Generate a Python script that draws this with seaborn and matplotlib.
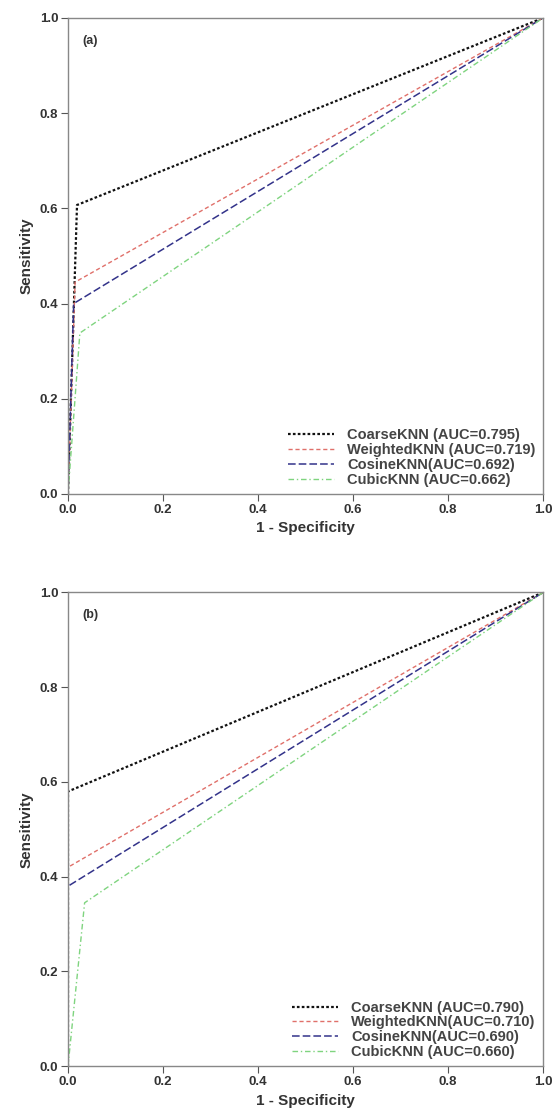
import numpy as np
import pandas as pd
import matplotlib.pyplot as plt
import seaborn as sns

sns.set_theme(style="white")
plt.rcParams["font.family"] = ["Liberation Sans", "DejaVu Sans"]

MODELS = ["CoarseKNN", "WeightedKNN", "CosineKNN", "CubicKNN"]

# panel (a) ROC points
A_FPR = {
    "CoarseKNN": [0.0, 0.019, 1.0],
    "WeightedKNN": [0.0, 0.015, 1.0],
    "CosineKNN": [0.0, 0.012, 1.0],
    "CubicKNN": [0.0, 0.025, 1.0],
}
A_TPR = {
    "CoarseKNN": [0.0, 0.607, 1.0],
    "WeightedKNN": [0.0, 0.445, 1.0],
    "CosineKNN": [0.0, 0.40, 1.0],
    "CubicKNN": [0.0, 0.338, 1.0],
}
A_LABELS = ["CoarseKNN (AUC=0.795)", "WeightedKNN (AUC=0.719)",
            "CosineKNN(AUC=0.692)", "CubicKNN (AUC=0.662)"]

# panel (b) ROC points
B_FPR = {
    "CoarseKNN": [0.0, 0.0, 1.0],
    "WeightedKNN": [0.0, 0.0, 1.0],
    "CosineKNN": [0.0, 0.0, 1.0],
    "CubicKNN": [0.0, 0.035, 1.0],
}
B_TPR = {
    "CoarseKNN": [0.0, 0.58, 1.0],
    "WeightedKNN": [0.0, 0.42, 1.0],
    "CosineKNN": [0.0, 0.38, 1.0],
    "CubicKNN": [0.0, 0.345, 1.0],
}
B_LABELS = ["CoarseKNN (AUC=0.790)", "WeightedKNN(AUC=0.710)",
            "CosineKNN(AUC=0.690)", "CubicKNN (AUC=0.660)"]

COLORS = ["#111111", "#e0706a", "#33338a", "#7fd47f"]
STYLES = [(0, (1.2, 1)), (0, (3, 2)), (0, (5, 2)), (0, (4, 2, 1, 2))]
WIDTHS = [1.6, 1.0, 1.1, 1.0]
TICKS = [0.0, 0.2, 0.4, 0.6, 0.8, 1.0]


def draw(ax, fpr, tpr, labels, tag):
    for m, lab, c, ls, lw in zip(MODELS, labels, COLORS, STYLES, WIDTHS):
        sns.lineplot(x=fpr[m], y=tpr[m], ax=ax, color=c, linestyle=ls,
                     linewidth=lw, label=lab, sort=False, estimator=None)
    ax.set_xlim(0, 1)
    ax.set_ylim(0, 1)
    ax.set_xticks(TICKS)
    ax.set_yticks(TICKS)
    ax.set_xticklabels([f"{t:.1f}" for t in TICKS], fontsize=9.5, fontweight="bold", color="#333333")
    ax.set_yticklabels([f"{t:.1f}" for t in TICKS], fontsize=9.5, fontweight="bold", color="#333333")
    ax.tick_params(direction="out", length=5, width=0.8, color="#555555",
                   left=True, bottom=True, pad=2)
    for sp in ax.spines.values():
        sp.set_color("#888888")
        sp.set_linewidth(1.0)
    ax.set_xlabel("1 - Specificity", fontsize=11, fontweight="bold", color="#333333")
    ax.set_ylabel("Sensitivity", fontsize=11, fontweight="bold", color="#333333")
    ax.text(0.03, 0.965, tag, transform=ax.transAxes, fontsize=9,
            fontweight="bold", va="top", color="#333333")
    leg = ax.legend(loc="lower right", frameon=False, fontsize=10.5,
                    handlelength=3.2, handletextpad=0.9, labelspacing=0.05,
                    borderaxespad=0.1)
    for t in leg.get_texts():
        t.set_fontweight("bold")
        t.set_color("#444444")


fig = plt.figure(figsize=(5.55, 11.2), dpi=100)
ax1 = fig.add_axes([0.1225, 0.559, 0.856, 0.425])
ax2 = fig.add_axes([0.1225, 0.048, 0.856, 0.423])
draw(ax1, A_FPR, A_TPR, A_LABELS, "(a)")
draw(ax2, B_FPR, B_TPR, B_LABELS, "(b)")

fig.savefig("out.png", dpi=100)
